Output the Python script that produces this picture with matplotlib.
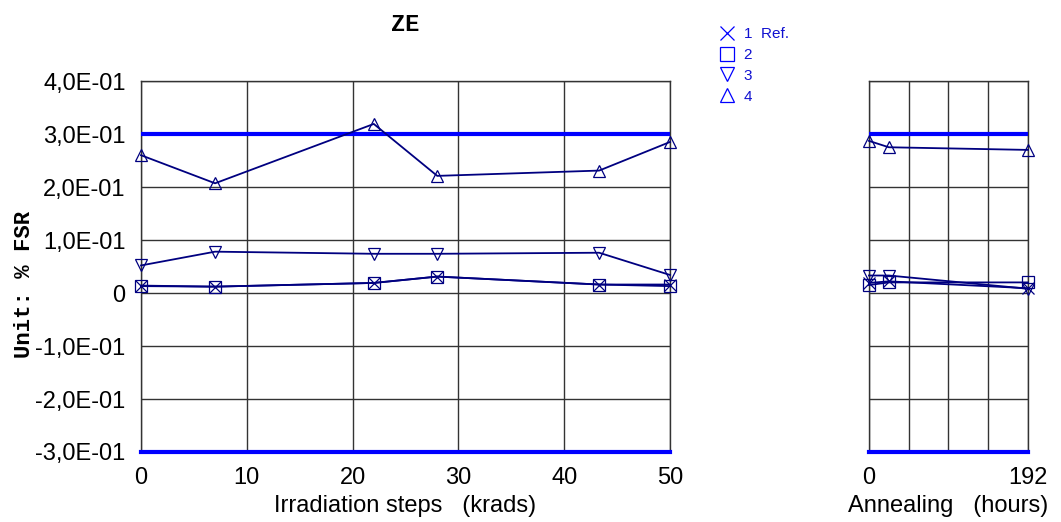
import numpy as np
import matplotlib
matplotlib.use("Agg")
import matplotlib.pyplot as plt
from matplotlib.ticker import FuncFormatter, MultipleLocator
from matplotlib.lines import Line2D

plt.rcParams["font.family"] = ["Liberation Sans", "DejaVu Sans"]

# --------------- DATA -------------------------------------------------------
irr_x = [0, 7, 22, 28, 43.3, 50]
ann_x = [0, 24, 192]

series_labels  = ["1  Ref.", "2", "3", "4"]
series_markers = ["x", "s", "v", "^"]

irr_y = [
    [0.014, 0.012, 0.019, 0.031, 0.016, 0.016],   # 1 Ref.
    [0.013, 0.012, 0.019, 0.031, 0.016, 0.013],   # 2
    [0.052, 0.078, 0.074, 0.074, 0.076, 0.034],   # 3
    [0.260, 0.207, 0.319, 0.221, 0.231, 0.285],   # 4
]
ann_y = [
    [0.019, 0.022, 0.009],
    [0.015, 0.020, 0.020],
    [0.033, 0.033, 0.008],
    [0.287, 0.275, 0.270],
]

limit_hi = 0.3
limit_lo = -0.3

# --------------- STYLE ------------------------------------------------------
navy  = "#000080"
blue  = "#0000ff"
gridc = "#333333"
fs    = 17


def sci_comma(v, pos):
    if abs(v) < 1e-9:
        return "0"
    return f"{v:.1E}".replace(".", ",")


def style_axes(ax):
    ax.set_ylim(-0.3, 0.4)
    ax.yaxis.set_major_locator(MultipleLocator(0.1))
    ax.grid(True, color=gridc, linewidth=1.0)
    ax.tick_params(length=0, labelsize=fs, pad=11)
    for s in ax.spines.values():
        s.set_color("#333333")
        s.set_linewidth(1.0)
    ax.axhline(limit_hi, color=blue, lw=3, zorder=3)
    ax.axhline(limit_lo, color=blue, lw=3, zorder=3, clip_on=False)


fig = plt.figure(figsize=(10.61, 5.22), dpi=100)

# Irradiation panel
ax1 = fig.add_axes([0.1329, 0.1341, 0.4986, 0.7107])
style_axes(ax1)
ax1.set_xlim(0, 50)
ax1.xaxis.set_major_locator(MultipleLocator(10))
ax1.yaxis.set_major_formatter(FuncFormatter(sci_comma))
for ys, m in zip(irr_y, series_markers):
    ax1.plot(irr_x, ys, color=navy, lw=1.3, marker=m, ms=9, mfc="none",
             mec=navy, mew=0.9, zorder=4, clip_on=False)
ax1.set_xlabel("Irradiation steps   (krads)", fontsize=fs, labelpad=4)
ax1.set_ylabel("Unit: % FSR", fontsize=16, fontweight="bold",
               family="Liberation Mono")
ax1.yaxis.set_label_coords(-0.201, 0.453)
ax1.set_title("ZE", fontsize=17, fontweight="bold", family="Liberation Mono",
              pad=36)

# Annealing panel
ax2 = fig.add_axes([0.8190, 0.1341, 0.1499, 0.7107])
style_axes(ax2)
ax2.set_xlim(0, 192)
ax2.set_xticks([0, 48, 96, 144, 192])
ax2.set_xticklabels(["0", "", "", "", "192"])
ax2.set_yticklabels([])
for ys, m in zip(ann_y, series_markers):
    ax2.plot(ann_x, ys, color=navy, lw=1.3, marker=m, ms=9, mfc="none",
             mec=navy, mew=0.9, zorder=4, clip_on=False)
ax2.set_xlabel("Annealing   (hours)", fontsize=fs, labelpad=4)

# Legend
handles = [Line2D([], [], ls="none", marker=m, ms=10, mfc="none",
                  mec=blue, mew=0.9) for m in series_markers]
leg = fig.legend(handles, series_labels, loc="upper left",
                 bbox_to_anchor=(0.672, 0.96), frameon=False,
                 fontsize=11, handlelength=1.0, handletextpad=0.6,
                 labelspacing=0.45, borderaxespad=0)
for t in leg.get_texts():
    t.set_color("#1010d0")

fig.savefig("out.png", dpi=100)
